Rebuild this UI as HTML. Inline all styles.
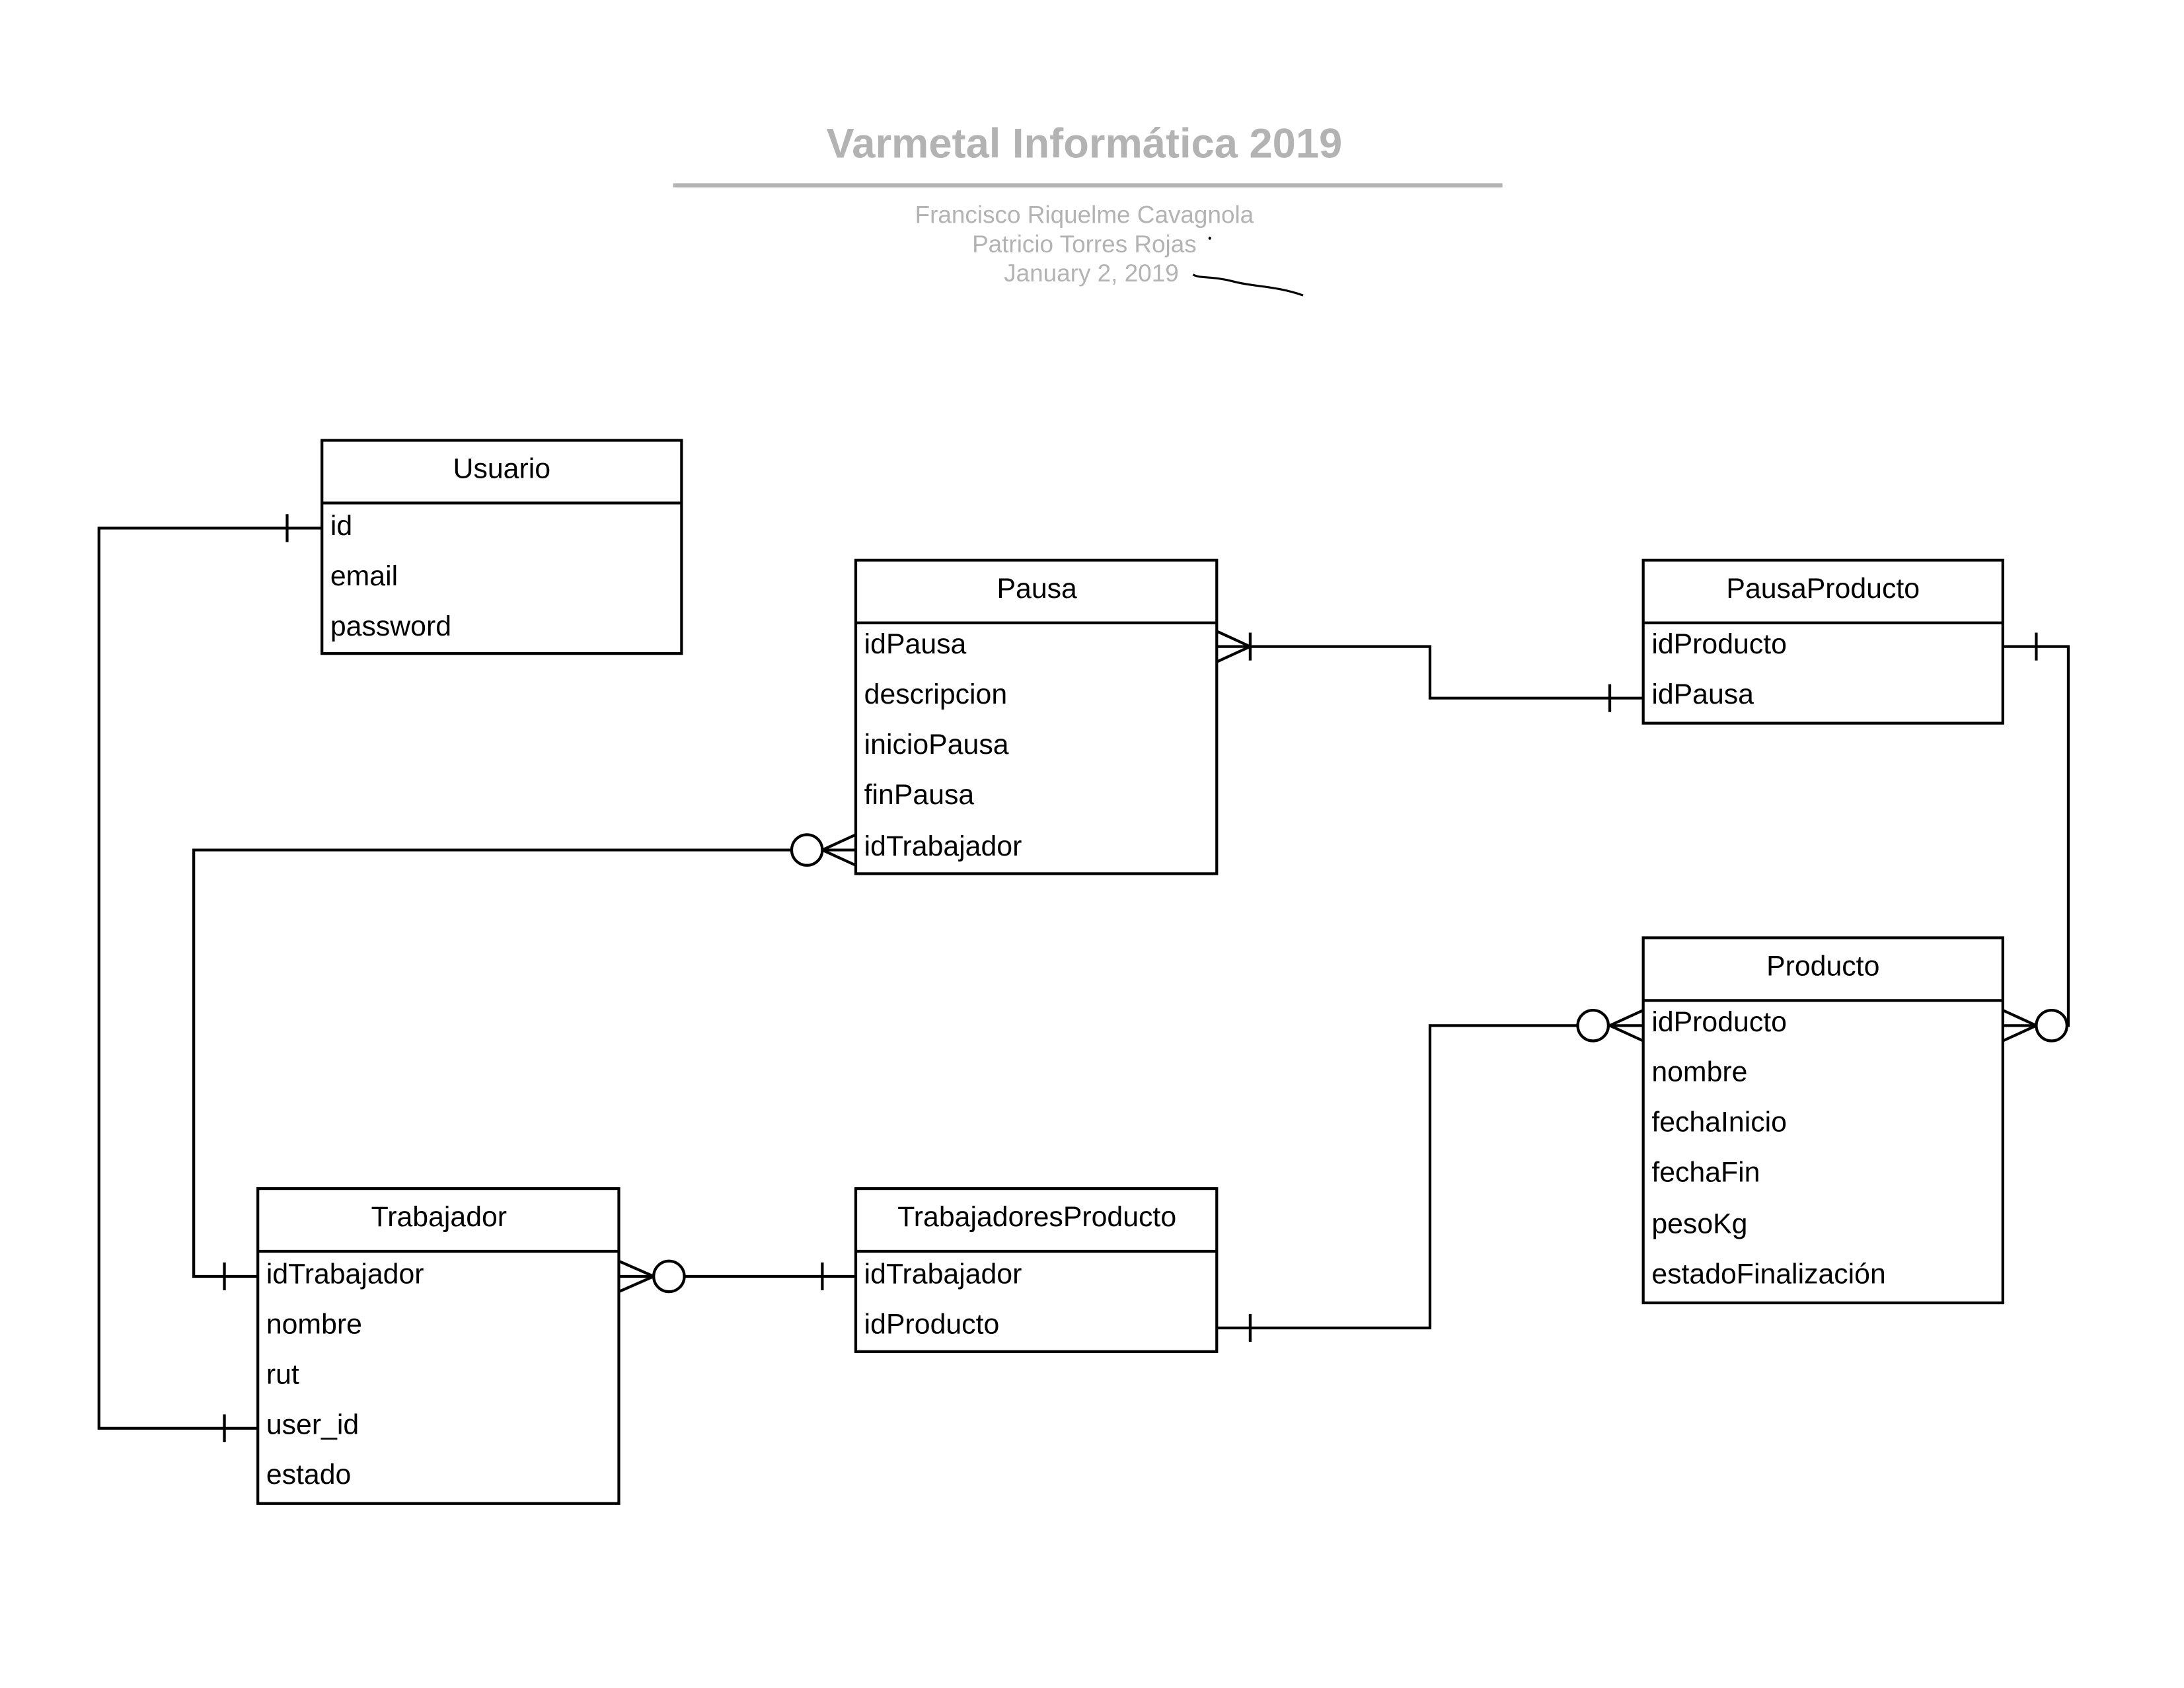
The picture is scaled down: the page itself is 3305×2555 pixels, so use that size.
<!DOCTYPE html>
<html><head><meta charset="utf-8"><style>
html,body{margin:0;padding:0;background:#fff;}
svg{display:block;}
text{font-family:"Liberation Sans",sans-serif;}
</style></head><body>
<svg width="3305" height="2555" viewBox="0 0 1567 1211.4" xmlns="http://www.w3.org/2000/svg">
<rect width="1567" height="1211.4" fill="#fff"/>
<text x="778" y="113" text-anchor="middle" font-size="30" font-weight="bold" fill="#b3b3b3">Varmetal Informática 2019</text>
<line x1="483" y1="133" x2="1078" y2="133" stroke="#b3b3b3" stroke-width="3"/>
<g font-size="17.5" fill="#b3b3b3" text-anchor="middle">
<text x="778" y="160">Francisco Riquelme Cavagnola</text>
<text x="778" y="181">Patricio Torres Rojas</text>
<text x="783" y="202">January 2, 2019</text>
</g>
<circle cx="868" cy="171" r="1" fill="#000"/>
<path d="M856,197 C860,200 870,198 885,202 C900,206 915,205 935,212" fill="none" stroke="#000" stroke-width="1.5"/>

<g fill="none" stroke="#000" stroke-width="2">
<rect x="231" y="316" width="258" height="153"/><line x1="231" y1="361" x2="489" y2="361"/>
<rect x="614" y="402" width="259" height="225"/><line x1="614" y1="447" x2="873" y2="447"/>
<rect x="1179" y="402" width="258" height="117"/><line x1="1179" y1="447" x2="1437" y2="447"/>
<rect x="1179" y="673" width="258" height="262"/><line x1="1179" y1="718" x2="1437" y2="718"/>
<rect x="185" y="853" width="259" height="226"/><line x1="185" y1="898" x2="444" y2="898"/>
<rect x="614" y="853" width="259" height="117"/><line x1="614" y1="898" x2="873" y2="898"/>

<polyline points="231,379 71,379 71,1025 185,1025"/>
<line x1="206" y1="369" x2="206" y2="389"/>
<line x1="161" y1="1015" x2="161" y2="1035"/>

<polyline points="568,610 139,610 139,916 185,916"/>
<circle cx="579" cy="610" r="11"/>
<line x1="590" y1="610" x2="614" y2="610"/>
<line x1="590" y1="610" x2="614" y2="599"/>
<line x1="590" y1="610" x2="614" y2="621"/>
<line x1="161" y1="906" x2="161" y2="926"/>

<polyline points="873,464 1026,464 1026,501 1179,501"/>
<line x1="873" y1="453" x2="897" y2="464"/>
<line x1="873" y1="475" x2="897" y2="464"/>
<line x1="897" y1="454" x2="897" y2="474"/>
<line x1="1155" y1="491" x2="1155" y2="511"/>

<polyline points="1437,464 1484,464 1484,736 1483,736"/>
<line x1="1461" y1="454" x2="1461" y2="474"/>
<circle cx="1472" cy="736" r="11"/>
<line x1="1461" y1="736" x2="1437" y2="736"/>
<line x1="1461" y1="736" x2="1437" y2="725"/>
<line x1="1461" y1="736" x2="1437" y2="747"/>

<line x1="491" y1="916" x2="614" y2="916"/>
<circle cx="480" cy="916" r="11"/>
<line x1="469" y1="916" x2="444" y2="916"/>
<line x1="469" y1="916" x2="444" y2="905"/>
<line x1="469" y1="916" x2="444" y2="927"/>
<line x1="590" y1="906" x2="590" y2="926"/>

<polyline points="873,953 1026,953 1026,736 1132,736"/>
<line x1="897" y1="943" x2="897" y2="963"/>
<circle cx="1143" cy="736" r="11"/>
<line x1="1155" y1="736" x2="1179" y2="736"/>
<line x1="1155" y1="736" x2="1179" y2="725"/>
<line x1="1155" y1="736" x2="1179" y2="747"/>
</g>

<g font-size="20.3" fill="#000">
<text x="360" y="343" text-anchor="middle">Usuario</text>
<text x="237" y="384">id</text><text x="237" y="420">email</text><text x="237" y="456">password</text>

<text x="744" y="429" text-anchor="middle">Pausa</text>
<text x="620" y="469">idPausa</text><text x="620" y="505">descripcion</text><text x="620" y="541">inicioPausa</text><text x="620" y="577">finPausa</text><text x="620" y="614">idTrabajador</text>

<text x="1308" y="429" text-anchor="middle">PausaProducto</text>
<text x="1185" y="469">idProducto</text><text x="1185" y="505">idPausa</text>

<text x="1308" y="700" text-anchor="middle">Producto</text>
<text x="1185" y="740">idProducto</text><text x="1185" y="776">nombre</text><text x="1185" y="812">fechaInicio</text><text x="1185" y="848">fechaFin</text><text x="1185" y="885">pesoKg</text><text x="1185" y="921">estadoFinalización</text>

<text x="315" y="880" text-anchor="middle">Trabajador</text>
<text x="191" y="921">idTrabajador</text><text x="191" y="957">nombre</text><text x="191" y="993">rut</text><text x="191" y="1029">user_id</text><text x="191" y="1065">estado</text>

<text x="744" y="880" text-anchor="middle">TrabajadoresProducto</text>
<text x="620" y="921">idTrabajador</text><text x="620" y="957">idProducto</text>
</g>
</svg>
</body></html>
